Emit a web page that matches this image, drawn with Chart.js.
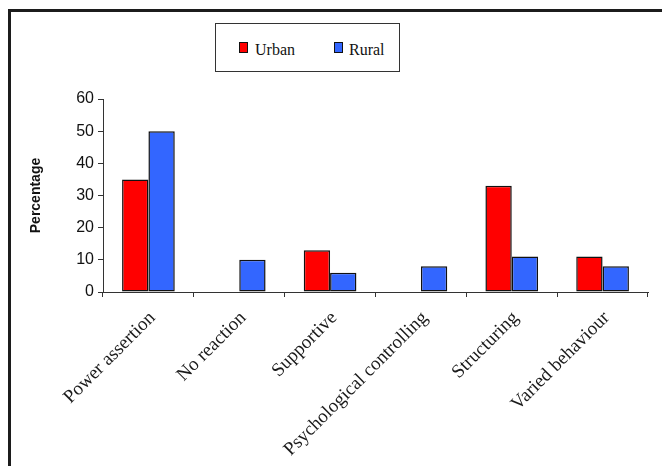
<!DOCTYPE html>
<html>
<head>
<meta charset="utf-8">
<script src="https://cdn.jsdelivr.net/npm/chart.js@4/dist/chart.umd.min.js"></script>
<style>
  html, body { margin: 0; padding: 0; background: #fff; }
  #wrap { position: relative; width: 662px; height: 466px; overflow: hidden; background: #fff; }
  #frame { position: absolute; left: 8px; top: 9px; right: -20px; bottom: -20px;
           border-top: 3px solid #1c1c1c; border-left: 3px solid #1c1c1c; }
  #chart { position: absolute; left: 0; top: 0; }
  #legend { position: absolute; left: 215px; top: 23px; width: 183px; height: 47px;
            border: 1px solid #333; background: #fff;
            font-family: "Liberation Serif", "Times New Roman", serif; font-size: 16px; color: #111; }
  .item { position: absolute; top: 18px; line-height: 16px; white-space: nowrap; }
  .swatch { position: absolute; width: 9px; height: 11px; border: 1px solid #111; box-sizing: border-box; }
</style>
</head>
<body>
<div id="wrap">
  <div id="frame"></div>
  <canvas id="chart" width="662" height="466"></canvas>
  <div id="legend"></div>
</div>
<script>
// Parental reaction categories and percentages per setting
const categories = ["Power assertion", "No reaction", "Supportive", "Psychological controlling", "Structuring", "Varied behaviour"];
const urban = [35, 0, 13, 0, 33, 11];
const rural = [50, 10, 6, 8, 11, 8];
const yTicks = [0, 10, 20, 30, 40, 50, 60];
const seriesNames = ["Urban", "Rural"];
const seriesColors = ["#ff0000", "#3366ff"];

const datasets = [urban, rural].map((vals, i) => ({
  label: seriesNames[i],
  data: vals,
  backgroundColor: seriesColors[i],
  borderColor: "#111",
  borderWidth: 1.5,
  borderSkipped: false,
  categoryPercentage: 0.58,
  barPercentage: 1.0
}));

// Boxed legend above the plot
const legend = document.getElementById("legend");
const legendPos = [{ sw: 23, tx: 39 }, { sw: 118, tx: 133 }];
seriesNames.forEach((name, i) => {
  const sw = document.createElement("div");
  sw.className = "swatch";
  sw.style.left = legendPos[i].sw + "px";
  sw.style.top = "18px";
  sw.style.background = seriesColors[i];
  legend.appendChild(sw);
  const t = document.createElement("div");
  t.className = "item";
  t.style.left = legendPos[i].tx + "px";
  t.textContent = name;
  legend.appendChild(t);
});

new Chart(document.getElementById("chart"), {
  type: "bar",
  data: { labels: categories, datasets },
  options: {
    responsive: false,
    animation: false,
    layout: { padding: { left: 22, top: 99, right: 14, bottom: 0 } },
    plugins: { legend: { display: false }, tooltip: { enabled: false } },
    scales: {
      x: {
        grid: { display: true, drawOnChartArea: false, offset: true, tickLength: 5, color: "#333", lineWidth: 1 },
        border: { display: true, color: "#333", width: 1 },
        ticks: {
          minRotation: 45, maxRotation: 45, autoSkip: false, padding: 10, labelOffset: 4,
          color: "#1a1a1a",
          font: { family: "'Liberation Serif', 'Times New Roman', serif", size: 19 }
        },
        afterFit: (s) => { s.height = 174; }
      },
      y: {
        min: 0, max: 60,
        afterBuildTicks: (s) => { s.ticks = yTicks.map(v => ({ value: v })); },
        grid: { display: true, drawOnChartArea: false, tickLength: 5, color: "#333" },
        border: { display: true, color: "#333", width: 1 },
        ticks: {
          padding: 4, color: "#111",
          font: { family: "'Liberation Sans', Arial, sans-serif", size: 16 }
        },
        title: {
          display: true, text: "Percentage", color: "#111", padding: { top: 6, bottom: 0 },
          font: { family: "'Liberation Sans', Arial, sans-serif", size: 14, weight: "bold" }
        },
        afterFit: (s) => { s.width = 81; }
      }
    }
  }
});
</script>
</body>
</html>
